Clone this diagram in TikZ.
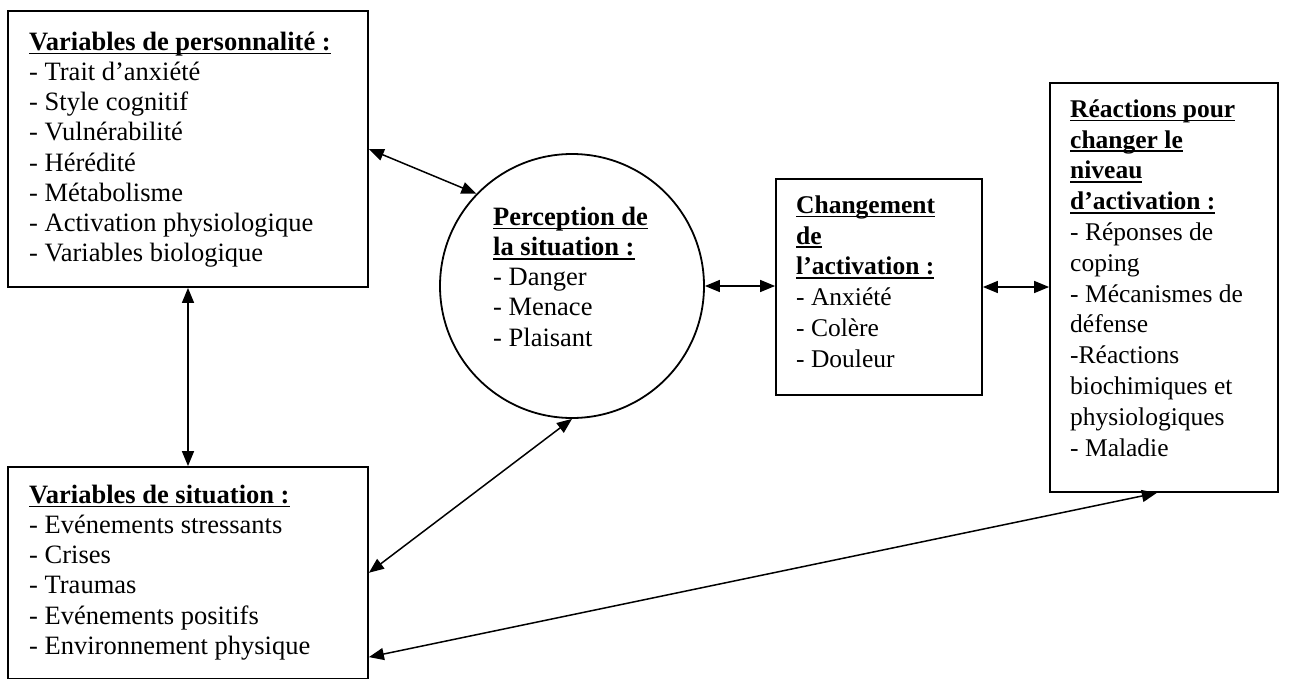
\documentclass[tikz,border=0pt]{standalone}
\usepackage{fontspec}
\setmainfont{Liberation Serif}
\usetikzlibrary{arrows.meta}
\newcommand\myul[1]{{\setbox0\hbox{#1}\rlap{\rule[-4.2pt]{\wd0}{1.8pt}}\box0}}
\newcommand\hs{\rule{0pt}{20pt}}
\tikzset{
  boxshape/.style={draw, line width=1.8pt, rectangle, inner sep=0pt},
  circshape/.style={draw, line width=1.8pt, circle, inner sep=0pt},
  txtleft/.style={anchor=north west, inner sep=0pt, align=left, font=\fontsize{26.5}{30.2}\selectfont},
  txtright/.style={anchor=north west, inner sep=0pt, align=left, font=\fontsize{25.5}{30.8}\selectfont},
  link/.style={line width=1.5pt, {Triangle[length=15pt,width=12pt]}-{Triangle[length=15pt,width=12pt]}}
}
\begin{document}
\begin{tikzpicture}[x=1pt,y=-1pt]
\useasboundingbox[fill=white] (0,0) rectangle (1308,680);
% shapes
\node[boxshape, minimum width=360pt, minimum height=276pt] (b1) at (188,149) {};
\node[boxshape, minimum width=360pt, minimum height=211.5pt] (b2) at (188,572.75) {};
\node[circshape, minimum size=264pt] (c) at (572,286) {};
\node[boxshape, minimum width=206pt, minimum height=216pt] (b3) at (879,287) {};
\node[boxshape, minimum width=228pt, minimum height=409pt] (b4) at (1164,287.5) {};
% texts
\node[txtleft] (t1) at (29,30) {\hs\myul{\textbf{Variables de personnalité :}}\\
- Trait d’anxiété\\
- Style cognitif\\
- Vulnérabilité\\
- Hérédité\\
- Métabolisme\\
- Activation physiologique\\
- Variables biologique};
\node[txtleft] (t2) at (29,483) {\hs\myul{\textbf{Variables de situation :}}\\
- Evénements stressants\\
- Crises\\
- Traumas\\
- Evénements positifs\\
- Environnement physique};
\node[txtleft] (tc) at (493,205) {\hs\myul{\textbf{Perception de}}\\
\myul{\textbf{la situation :}}\\
- Danger\\
- Menace\\
- Plaisant};
\node[txtright] (t3) at (796,193) {\hs\myul{\textbf{Changement}}\\
\myul{\textbf{de}}\\
\myul{\textbf{l’activation :}}\\
- Anxiété\\
- Colère\\
- Douleur};
\node[txtright] (t4) at (1070,97) {\hs\myul{\textbf{Réactions pour}}\\
\myul{\textbf{changer le}}\\
\myul{\textbf{niveau}}\\
\myul{\textbf{d’activation :}}\\
- Réponses de\\
coping\\
- Mécanismes de\\
défense\\
-Réactions\\
biochimiques et\\
physiologiques\\
- Maladie};
% connectors
\draw[link] (b1.east) -- (c.136);
\draw[link] (b1.south) -- (b2.north);
\draw[link] (b2.east) -- (c.south);
\draw[link] (c.east) -- (c.east -| b3.west);
\draw[link] (b3.east) -- (b3.east -| b4.west);
\draw[link] (b2.-25) -- (b4.-92);
\end{tikzpicture}
\end{document}
